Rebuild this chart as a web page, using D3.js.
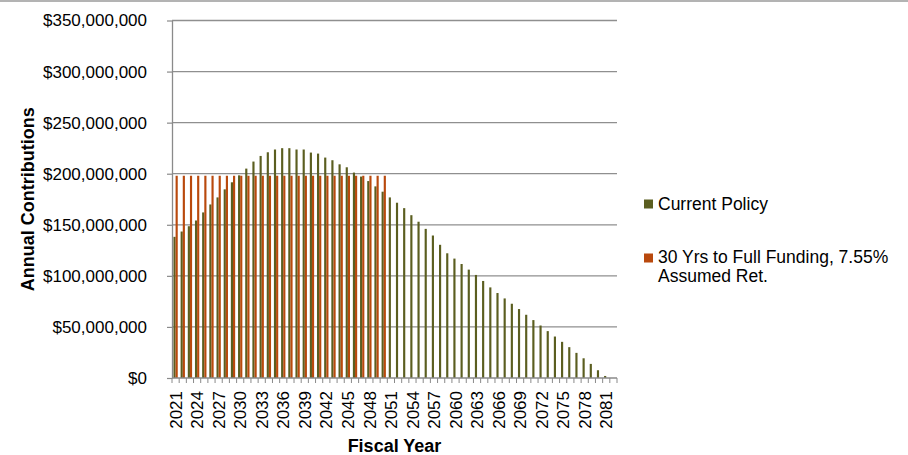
<!DOCTYPE html>
<html>
<head>
<meta charset="utf-8">
<script src="https://cdn.jsdelivr.net/npm/d3@7"></script>
<style>
  html, body { margin: 0; padding: 0; background: #ffffff; }
  svg { display: block; font-family: "Liberation Sans", Arial, sans-serif; }
</style>
</head>
<body>
<svg id="chart" width="908" height="455"></svg>
<script>
// Fiscal years on the category axis
const years = [2021,2022,2023,2024,2025,2026,2027,2028,2029,2030,
  2031,2032,2033,2034,2035,2036,2037,2038,2039,2040,
  2041,2042,2043,2044,2045,2046,2047,2048,2049,2050,
  2051,2052,2053,2054,2055,2056,2057,2058,2059,2060,
  2061,2062,2063,2064,2065,2066,2067,2068,2069,2070,
  2071,2072,2073,2074,2075,2076,2077,2078,2079,2080,
  2081,2082];

// Annual contributions, millions of dollars
const currentPolicy = [138.2,143.4,148.6,154.2,162.1,169.9,176.8,184.7,191.6,198.4,
  205.0,211.9,217.4,221.0,223.7,225.0,225.0,223.7,223.7,220.7,
  219.7,215.8,213.2,209.2,206.3,201.1,197.2,192.8,187.6,182.4,
  176.8,171.6,166.3,159.4,153.0,146.0,139.5,130.4,122.1,116.9,
  111.6,106.1,100.9,95.0,88.7,83.2,77.9,72.7,67.5,61.9,
  56.7,51.4,45.9,40.6,35.4,30.2,24.6,19.3,13.8,7.6,
  2.0,0];

// 30-year full funding schedule (FY2021–FY2050), millions of dollars
const fullFunding = [198,198,198,198,198,198,198,198,198,198,
  198,198,198,198,198,198,198,198,198,198,
  198,198,198,198,198,198,198,198,198,198];

const yTickValues = [0,50,100,150,200,250,300,350];
const seriesNames = ["Current Policy", "30 Yrs to Full Funding, 7.55%", "Assumed Ret."];
const colors = { current: "#5b5e20", full: "#b9490d" };

const svg = d3.select("#chart");
const plot = { left: 172, right: 617, top: 20.5, bottom: 378 };

// top frame line
svg.append("line")
  .attr("x1", 0).attr("x2", 908).attr("y1", 1).attr("y2", 1)
  .attr("stroke", "#9a9a9a").attr("stroke-width", 1.5);

const x = d3.scaleBand().domain(years).range([plot.left, plot.right])
  .paddingInner(0.4).paddingOuter(0.2);
const sub = d3.scaleBand().domain(["current", "full"]).range([0, x.bandwidth()]);
const y = d3.scaleLinear().domain([0, 350]).range([plot.bottom, plot.top]);

// horizontal gridlines
svg.append("g").selectAll("line").data(yTickValues.filter(d => d > 0)).join("line")
  .attr("x1", plot.left).attr("x2", plot.right)
  .attr("y1", d => y(d)).attr("y2", d => y(d))
  .attr("stroke", "#8f8f8f").attr("stroke-width", 1.3);

// bars
const rows = years.map((yr, i) => ({ year: yr, current: currentPolicy[i], full: i < fullFunding.length ? fullFunding[i] : null }));
const groups = svg.append("g").selectAll("g").data(rows).join("g")
  .attr("transform", d => `translate(${x(d.year)},0)`);
groups.append("rect")
  .attr("x", sub("current")).attr("width", sub.bandwidth())
  .attr("y", d => y(d.current)).attr("height", d => y(0) - y(d.current))
  .attr("fill", colors.current);
groups.filter(d => d.full !== null).append("rect")
  .attr("x", sub("full")).attr("width", sub.bandwidth())
  .attr("y", d => y(d.full)).attr("height", d => y(0) - y(d.full))
  .attr("fill", colors.full);

// y axis
const fmt = d3.format(",");
const yAxis = d3.axisLeft(y).tickValues(yTickValues).tickSizeInner(5).tickSizeOuter(0)
  .tickPadding(20).tickFormat(d => "$" + fmt(d * 1e6));
const gy = svg.append("g").attr("transform", `translate(${plot.left},0)`).call(yAxis);
gy.select(".domain").attr("stroke", "#8a8a8a").attr("stroke-width", 1.3);
gy.selectAll(".tick line").attr("stroke", "#8a8a8a").attr("stroke-width", 1.2);
gy.selectAll("text").attr("font-size", 17).attr("fill", "#000")
  .attr("font-family", "Liberation Sans, Arial, sans-serif");

// x axis: ticks at category boundaries, labels every third year
const gx = svg.append("g");
gx.append("line").attr("x1", plot.left).attr("x2", plot.right)
  .attr("y1", plot.bottom).attr("y2", plot.bottom)
  .attr("stroke", "#8a8a8a").attr("stroke-width", 1.3);
const step = x.step();
const boundaries = years.map((yr, i) => plot.left + i * step).concat([plot.right]);
gx.selectAll("line.tk").data(boundaries).join("line").attr("class", "tk")
  .attr("x1", d => d).attr("x2", d => d)
  .attr("y1", plot.bottom).attr("y2", plot.bottom + 5)
  .attr("stroke", "#8a8a8a").attr("stroke-width", 1);
gx.selectAll("text").data(years.filter((yr, i) => i % 3 === 0)).join("text")
  .attr("transform", d => `translate(${x(d) + x.bandwidth() / 2},391) rotate(-90)`)
  .attr("text-anchor", "end").attr("dy", "0.36em")
  .attr("font-size", 17).attr("fill", "#000")
  .text(d => d);

// axis titles
svg.append("text")
  .attr("transform", `translate(33.5,${(plot.top + plot.bottom) / 2}) rotate(-90)`)
  .attr("text-anchor", "middle").attr("font-weight", "bold").attr("font-size", 18)
  .text("Annual Contributions");
svg.append("text")
  .attr("x", (plot.left + plot.right) / 2).attr("y", 451.5)
  .attr("text-anchor", "middle").attr("font-weight", "bold").attr("font-size", 18)
  .text("Fiscal Year");

// legend
const legend = svg.append("g");
legend.append("rect").attr("x", 644).attr("y", 199.5).attr("width", 9).attr("height", 9).attr("fill", colors.current);
legend.append("text").attr("x", 658).attr("y", 209.5).attr("font-size", 17.5).text(seriesNames[0]);
legend.append("rect").attr("x", 644).attr("y", 253.5).attr("width", 9).attr("height", 9).attr("fill", colors.full);
legend.append("text").attr("x", 658).attr("y", 262.5).attr("font-size", 17.5).text(seriesNames[1]);
legend.append("text").attr("x", 658).attr("y", 281.5).attr("font-size", 17.5).text(seriesNames[2]);
</script>
</body>
</html>
